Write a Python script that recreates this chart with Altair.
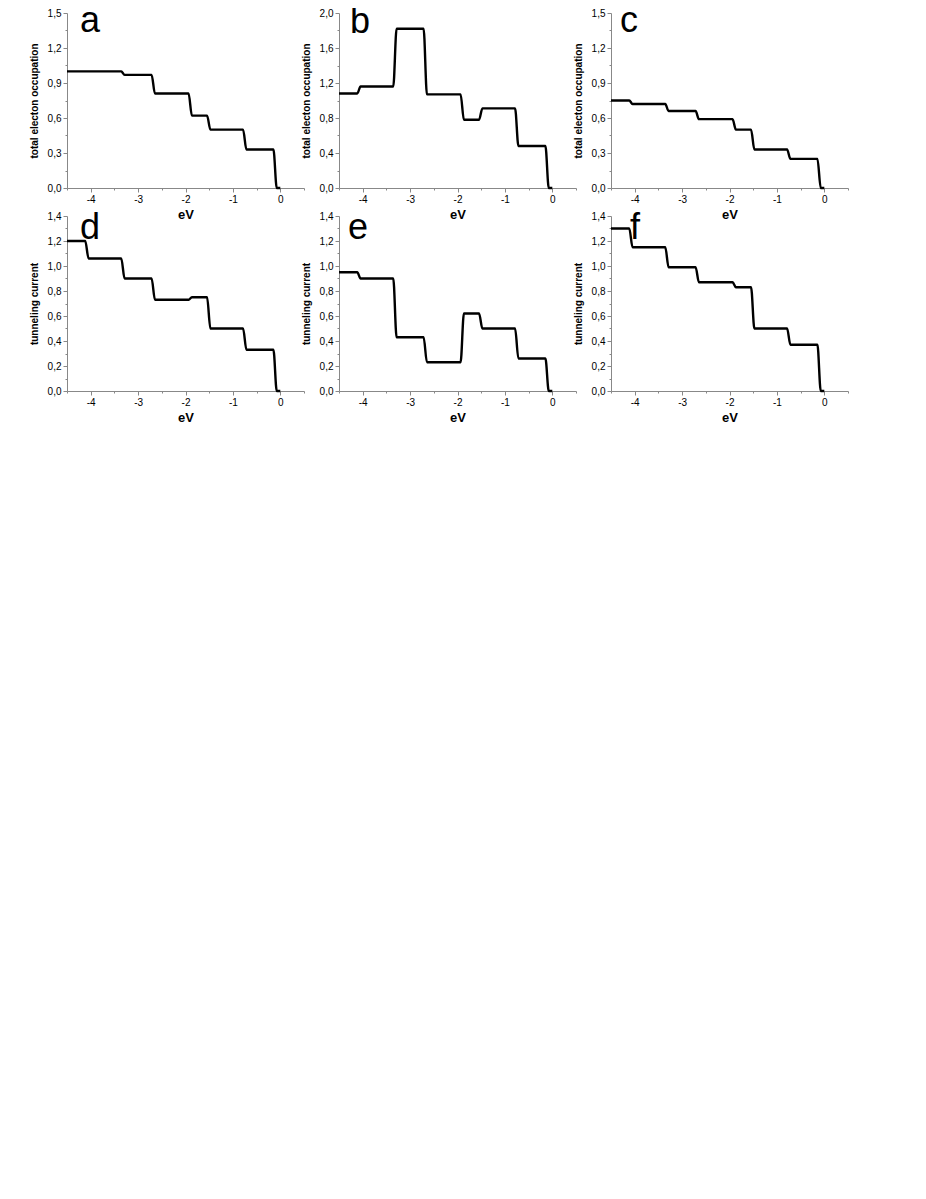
import altair as alt
import pandas as pd

# energy positions of the steps (eV), common to all panels
step_edges = [-4.08, -3.32, -2.68, -1.90, -1.51, -0.75, -0.11]
x_first = -4.5
x_last = 0.0

# plateau levels between consecutive steps (left to right)
levels_a = [1.00, 1.00, 0.97, 0.81, 0.62, 0.50, 0.33, 0.0]
levels_b = [1.08, 1.16, 1.82, 1.07, 0.78, 0.91, 0.48, 0.0]
levels_c = [0.75, 0.72, 0.66, 0.59, 0.50, 0.33, 0.25, 0.0]
levels_d = [1.20, 1.06, 0.90, 0.73, 0.75, 0.50, 0.33, 0.0]
levels_e = [0.95, 0.90, 0.43, 0.23, 0.62, 0.50, 0.26, 0.0]
levels_f = [1.30, 1.15, 0.99, 0.87, 0.83, 0.50, 0.37, 0.0]

letters = ["a", "b", "c", "d", "e", "f"]
y_titles = ["total electon occupation"] * 3 + ["tunneling current"] * 3
y_max = [1.5, 2.0, 1.5, 1.4, 1.4, 1.4]
y_major = [0.3, 0.4, 0.3, 0.2, 0.2, 0.2]
x_ticks = [-4.5, -4.0, -3.5, -3.0, -2.5, -2.0, -1.5, -1.0, -0.5, 0.0, 0.5]

HALF_W = 0.035
FONT = "Liberation Sans"


def step_table(levels):
    bounds = [x_first] + step_edges + [x_last]
    xs, ys = [], []
    n = len(levels)
    for i, lv in enumerate(levels):
        left = bounds[i] + (HALF_W if i > 0 else 0.0)
        right = bounds[i + 1] - (HALF_W if i < n - 1 else 0.0)
        xs += [left, right]
        ys += [lv, lv]
    return pd.DataFrame({"eV": xs, "value": ys})


def panel(letter, levels, ytitle, ymax, major, dx, base):
    df = step_table(levels)
    minor = major / 2.0
    nvals = int(round(ymax / minor))
    yvals = [round(k * minor, 4) for k in range(nvals + 1)]
    is_major = f"abs(datum.value/{major} - round(datum.value/{major})) < 1e-6"
    yaxis = alt.Axis(
        values=yvals,
        title=ytitle,
        grid=False,
        labelExpr=f"{is_major} ? replace(format(datum.value, '.1f'), '.', ',') : ''",
        tickSize={"condition": {"test": is_major, "value": 4}, "value": 2},
        labelOverlap=False,
        labelFlush=False,
        labelPadding=2,
        titlePadding=8,
        titleFontSize=10,
    )
    xaxis = alt.Axis(
        values=x_ticks,
        title="eV",
        grid=False,
        labelExpr="datum.value % 1 === 0 ? '' + datum.value : ''",
        tickSize={"condition": {"test": "datum.value % 1 === 0", "value": 4}, "value": 2},
        labelOverlap=False,
        labelFlush=False,
        labelPadding=2,
        titlePadding=4,
        titleFontSize=13,
    )
    line = (
        alt.Chart(df)
        .mark_line(color="black", strokeWidth=2.4, interpolate="monotone")
        .encode(
            x=alt.X("eV:Q", scale=alt.Scale(domain=[-4.5, 0.5], nice=False, zero=False), axis=xaxis),
            y=alt.Y("value:Q", scale=alt.Scale(domain=[0, ymax], nice=False), axis=yaxis),
        )
    )
    label = (
        alt.Chart(pd.DataFrame({"label": [letter]}))
        .mark_text(
            font=FONT,
            fontSize=36,
            align="left",
            baseline="alphabetic",
            color="black",
        )
        .encode(text="label:N", x=alt.value(dx), y=alt.value(base))
    )
    return alt.layer(line, label).properties(
        width=237, height=175, view=alt.ViewBackground(stroke=None, strokeWidth=0)
    )


all_levels = [levels_a, levels_b, levels_c, levels_d, levels_e, levels_f]
dxs = [13, 11, 9, 13, 9, 19]
bases = [19, 20, 19, 23, 23, 23]
charts = [
    panel(letters[i], all_levels[i], y_titles[i], y_max[i], y_major[i], dxs[i], bases[i])
    for i in range(6)
]

chart = (
    alt.concat(*charts, columns=3, spacing={"row": 28, "column": 35}, bounds="flush")
    .properties(padding={"left": 21, "top": -5, "right": 5, "bottom": 5})
    .configure_view(stroke=None, strokeWidth=0, strokeOpacity=0)
    .configure_axis(
        domainColor="black",
        domainWidth=1.3,
        tickColor="black",
        tickWidth=1,
        labelFont=FONT,
        labelFontWeight="bold",
        labelFontSize=7,
        labelColor="black",
        titleFont=FONT,
        titleFontWeight="bold",
        titleColor="black",
    )
    .configure(background="white")
)

chart.save("out.html", embed_options={"renderer": "svg", "actions": False})
